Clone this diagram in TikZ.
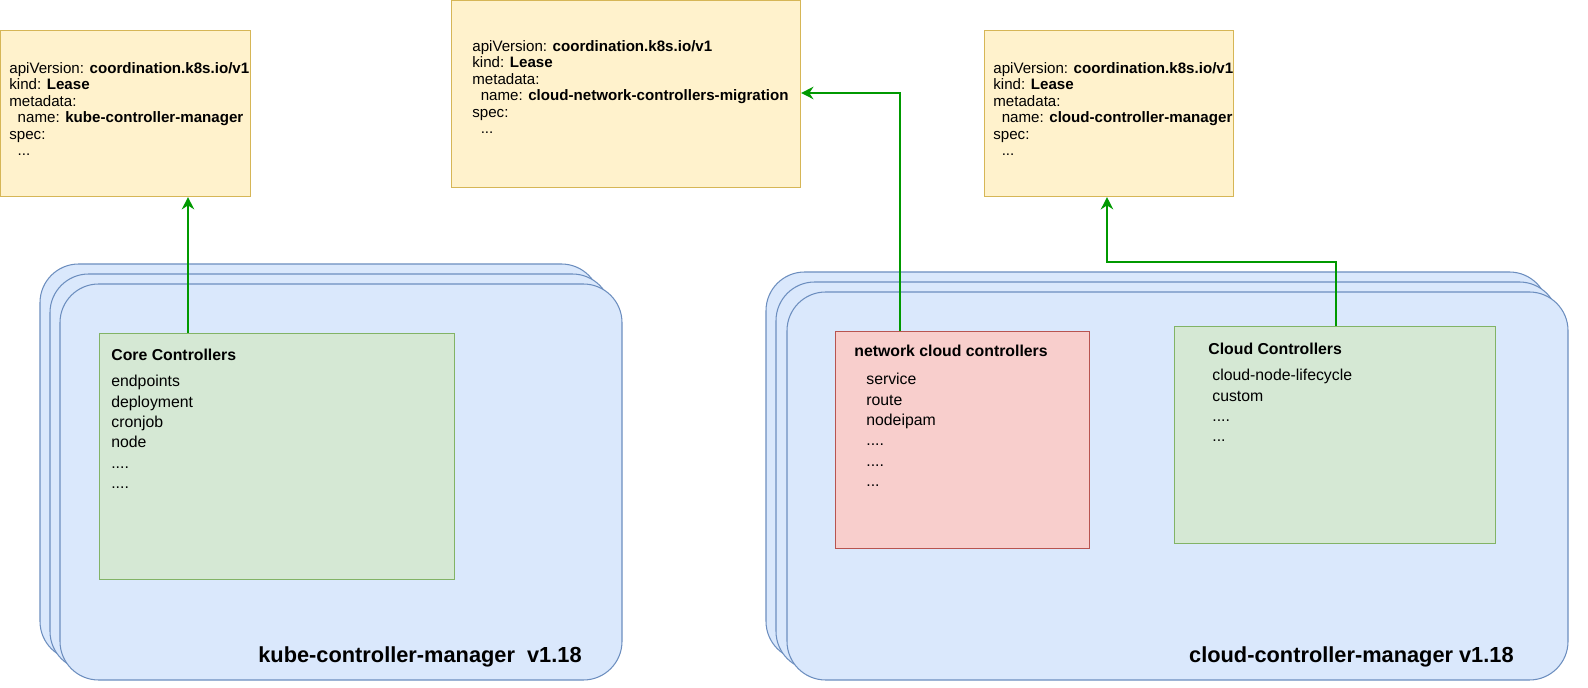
\documentclass[tikz,border=0pt]{standalone}
\usepackage{fontspec}
\setmainfont{Liberation Sans}
\usetikzlibrary{arrows.meta}
\definecolor{mb}{RGB}{108,142,191}
\definecolor{mfill}{RGB}{218,232,252}
\definecolor{lsd}{RGB}{214,182,86}
\definecolor{lsf}{RGB}{255,242,204}
\definecolor{gd}{RGB}{130,179,102}
\definecolor{gf}{RGB}{213,232,212}
\definecolor{rd}{RGB}{184,84,80}
\definecolor{rf}{RGB}{248,206,204}
\definecolor{lk}{RGB}{0,153,0}
\begin{document}
\begin{tikzpicture}[x=0.02cm,y=-0.02cm,
 mgr/.style={draw=mb,fill=mfill,rounded corners=22pt,line width=0.6pt},
 lease/.style={draw=lsd,fill=lsf,line width=0.6pt},
 grn/.style={draw=gd,fill=gf,line width=0.6pt},
 red/.style={draw=rd,fill=rf,line width=0.6pt},
 txt/.style={anchor=north west,align=left,inner sep=0pt,font=\fontsize{8.6}{9.4}\selectfont},
 lst/.style={anchor=north west,align=left,inner sep=0pt,font=\fontsize{9}{11.6}\selectfont},
 ttl/.style={anchor=north west,inner sep=0pt,font=\fontsize{9}{10}\selectfont\bfseries},
 big/.style={anchor=base east,inner sep=0pt,font=\fontsize{12.4}{14}\selectfont\bfseries},
 link/.style={draw=lk,line width=1.4pt,-{Stealth[length=7pt,width=7pt]}}]
\path[use as bounding box] (0,0) rectangle (1588,688);
% left stack
\draw[mgr] (40,264) rectangle (600,660);
\draw[mgr] (50,274) rectangle (611,670);
\draw[mgr] (60,284) rectangle (622,680);
\node[big] (kcmt) at (582,662) {kube-controller-manager\ \ v1.18};
% right stack
\draw[mgr] (766,272) rectangle (1548,660);
\draw[mgr] (776,282) rectangle (1558,670);
\draw[mgr] (787,292) rectangle (1568,680);
\node[big] (ccmt) at (1514,662) {cloud-controller-manager v1.18};
% leases
\node[lease,minimum width=250*0.02cm,minimum height=166*0.02cm,anchor=north west] (l1) at (0,30) {};
\node[txt] (l1t) at (9,62) {apiVersion: \textbf{coordination.k8s.io/v1}\\kind: \textbf{Lease}\\metadata:\\\ \ name: \textbf{kube-controller-manager}\\spec:\\\ \ ...};
\node[lease,minimum width=349*0.02cm,minimum height=187*0.02cm,anchor=north west] (l2) at (451,0) {};
\node[txt] (l2t) at (472,40) {apiVersion: \textbf{coordination.k8s.io/v1}\\kind: \textbf{Lease}\\metadata:\\\ \ name: \textbf{cloud-network-controllers-migration}\\spec:\\\ \ ...};
\node[lease,minimum width=249*0.02cm,minimum height=166*0.02cm,anchor=north west] (l3) at (984,30) {};
\node[txt] (l3t) at (993,62) {apiVersion: \textbf{coordination.k8s.io/v1}\\kind: \textbf{Lease}\\metadata:\\\ \ name: \textbf{cloud-controller-manager}\\spec:\\\ \ ...};
% controllers
\node[grn,minimum width=355*0.02cm,minimum height=246*0.02cm,anchor=north west] (core) at (99,333) {};
\node[ttl] (coret) at (111,349) {Core Controllers};
\node[lst] (corel) at (111,375) {endpoints\\deployment\\cronjob\\node\\....\\....};
\node[red,minimum width=254*0.02cm,minimum height=217*0.02cm,anchor=north west] (net) at (835,331) {};
\node[ttl] (nett) at (854,345) {network cloud controllers};
\node[lst] (netl) at (866,373) {service\\route\\nodeipam\\....\\....\\...};
\node[grn,minimum width=321*0.02cm,minimum height=217*0.02cm,anchor=north west] (cc) at (1174,326) {};
\node[ttl] (cct) at (1208,343) {Cloud Controllers};
\node[lst] (ccl) at (1212,369) {cloud-node-lifecycle\\custom\\....\\...};
% links
\draw[link] (core.north -| 188,0) -- (l1.south -| 188,0);
\draw[link] (net.north -| 900,0) |- (l2.east |- 0,93);
\draw[link] (cc.north -| 1336,0) -- (1336,262) -| (l3.south -| 1107,0);
\end{tikzpicture}
\end{document}
